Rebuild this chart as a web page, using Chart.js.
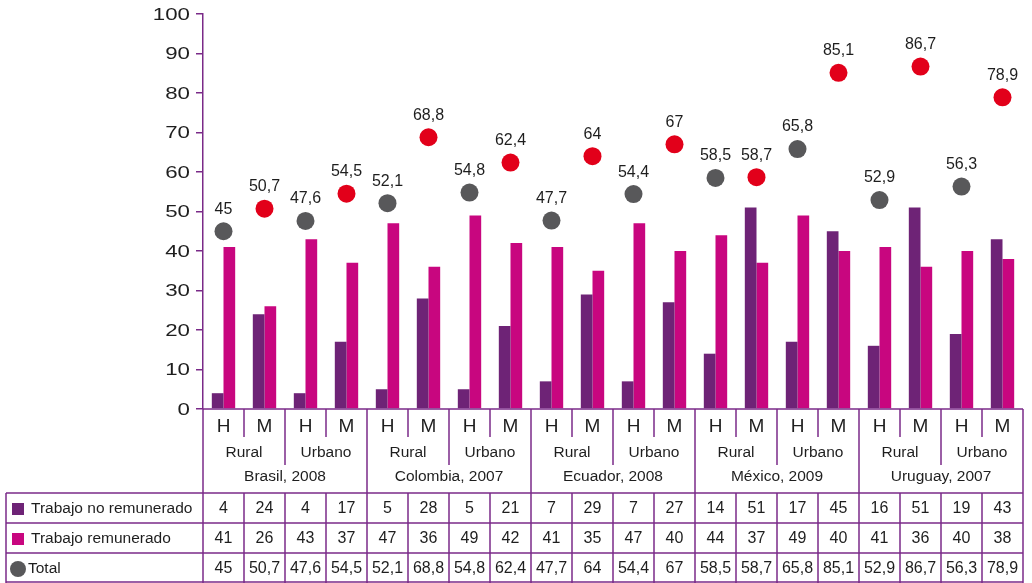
<!DOCTYPE html>
<html>
<head>
<meta charset="utf-8">
<script src="https://cdn.jsdelivr.net/npm/chart.js@4/dist/chart.umd.min.js"></script>
<style>
  html, body { margin: 0; padding: 0; background: #fff; }
  canvas { display: block; }
</style>
</head>
<body>
<canvas id="chart" width="1032" height="583"></canvas>
<script>
// Datos por columna (país / zona / sexo)
const sexos = ['H','M','H','M','H','M','H','M','H','M','H','M','H','M','H','M','H','M','H','M'];
const zonas = ['Rural', 'Urbano', 'Rural', 'Urbano', 'Rural', 'Urbano', 'Rural', 'Urbano', 'Rural', 'Urbano'];
const paises = ['Brasil, 2008', 'Colombia, 2007', 'Ecuador, 2008', 'México, 2009', 'Uruguay, 2007'];

const noRemunerado = [4, 24, 4, 17, 5, 28, 5, 21, 7, 29, 7, 27, 14, 51, 17, 45, 16, 51, 19, 43];
const remunerado = [41, 26, 43, 37, 47, 36, 49, 42, 41, 35, 47, 40, 44, 37, 49, 40, 41, 36, 40, 38];
const total = [45, 50.7, 47.6, 54.5, 52.1, 68.8, 54.8, 62.4, 47.7, 64, 54.4, 67, 58.5, 58.7, 65.8, 85.1, 52.9, 86.7, 56.3, 78.9];

const yTicks = [0, 10, 20, 30, 40, 50, 60, 70, 80, 90, 100];

const PURPLE = '#6e2376';
const MAGENTA = '#c8067f';
const GREY = '#58585a';
const RED = '#e2001a';
const LINE = '#7a2a88';
const TEXT = '#1e1e1e';
const FONT = '"Liberation Sans", Arial, sans-serif';

const fmt = v => String(v).replace('.', ',');

// tabla inferior, etiquetas de los puntos y números del eje
const tablePlugin = {
    id: 'tabla',
    afterDraw(chart) {
        const ctx = chart.ctx;
        const x = chart.scales.x;
        const y = chart.scales.y;
        const area = chart.chartArea;
        const n = sexos.length;
        const colW = (area.right - area.left) / n;
        const edge = i => area.left + i * colW;
        const base = area.bottom;
        const rows = [493, 523, 553, 583];
        const leftX = 6;

        // números del eje Y (letra ensanchada)
        ctx.save();
        ctx.fillStyle = TEXT;
        ctx.font = '16.5px ' + FONT;
        ctx.textAlign = 'right';
        ctx.textBaseline = 'middle';
        yTicks.forEach(v => {
            const py = y.getPixelForValue(v) + 1;
            ctx.save();
            ctx.translate(190, py);
            ctx.scale(1.35, 1);
            ctx.fillText(String(v), 0, 0);
            ctx.restore();
        });
        ctx.restore();

        // etiquetas de total sobre los puntos
        const meta = chart.getDatasetMeta(2);
        ctx.save();
        ctx.fillStyle = TEXT;
        ctx.font = '16px ' + FONT;
        ctx.textAlign = 'center';
        ctx.textBaseline = 'middle';
        meta.data.forEach((pt, i) => {
            ctx.fillText(fmt(total[i]), pt.x, pt.y - 22);
        });
        ctx.restore();

        ctx.save();
        ctx.strokeStyle = LINE;
        ctx.lineWidth = 1.5;
        const line = (x1, y1, x2, y2) => {
            ctx.beginPath();
            ctx.moveTo(x1, y1);
            ctx.lineTo(x2, y2);
            ctx.stroke();
        };

        // línea base
        line(area.left, base, edge(n), base);
        // eje prolongado hasta abajo
        line(area.left, base, area.left, 583);
        // separadores verticales
        for (let i = 1; i <= n; i++) {
            const xx = edge(i);
            if (i % 4 === 0) line(xx, base, xx, 583);
            else if (i % 2 === 0) { line(xx, base, xx, 465); line(xx, rows[0], xx, 583); }
            else { line(xx, base, xx, 437); line(xx, rows[0], xx, 583); }
        }
        // filas de la tabla
        rows.forEach((ry, k) => {
            const yy = k === 3 ? ry - 1 : ry;
            line(leftX, yy, edge(n), yy);
        });
        line(leftX, rows[0], leftX, 583);
        ctx.restore();

        // textos de los encabezados
        ctx.save();
        ctx.fillStyle = TEXT;
        ctx.textAlign = 'center';
        ctx.textBaseline = 'middle';
        ctx.font = '19px ' + FONT;
        sexos.forEach((s, i) => ctx.fillText(s, x.getPixelForValue(i), 427));
        ctx.font = '15.5px ' + FONT;
        zonas.forEach((z, j) => ctx.fillText(z, (edge(j * 2) + edge(j * 2 + 2)) / 2, 453));
        paises.forEach((p, j) => ctx.fillText(p, (edge(j * 4) + edge(j * 4 + 4)) / 2, 477));

        // valores
        const series = [noRemunerado, remunerado, total];
        ctx.font = '16px ' + FONT;
        series.forEach((arr, r) => {
            const cy = (rows[r] + rows[r + 1]) / 2 + 1;
            arr.forEach((v, i) => ctx.fillText(fmt(v), x.getPixelForValue(i), cy));
        });

        // leyenda dentro de la tabla
        const labels = ['Trabajo no remunerado', 'Trabajo remunerado', 'Total'];
        ctx.textAlign = 'left';
        ctx.font = '15.5px ' + FONT;
        labels.forEach((t, r) => {
            const cy = (rows[r] + rows[r + 1]) / 2 + 1;
            if (r < 2) {
                ctx.fillStyle = r === 0 ? PURPLE : MAGENTA;
                ctx.fillRect(12, cy - 6, 12, 12);
            } else {
                ctx.fillStyle = GREY;
                ctx.beginPath();
                ctx.arc(18, cy, 8, 0, Math.PI * 2);
                ctx.fill();
            }
            ctx.fillStyle = TEXT;
            ctx.fillText(t, r < 2 ? 31 : 28, cy);
        });
        ctx.restore();
    }
};

const ctx = document.getElementById('chart').getContext('2d');
new Chart(ctx, {
    type: 'bar',
    data: {
        labels: sexos.map((s, i) => i),
        datasets: [
            {
                label: 'Trabajo no remunerado',
                data: noRemunerado,
                backgroundColor: PURPLE,
                barPercentage: 1,
                categoryPercentage: 0.57,
                order: 1
            },
            {
                label: 'Trabajo remunerado',
                data: remunerado,
                backgroundColor: MAGENTA,
                barPercentage: 1,
                categoryPercentage: 0.57,
                order: 1
            },
            {
                type: 'line',
                label: 'Total',
                data: total,
                showLine: false,
                pointRadius: 9,
                pointHoverRadius: 9,
                pointBorderWidth: 0,
                pointBackgroundColor: sexos.map(s => s === 'H' ? GREY : RED),
                order: 0
            }
        ]
    },
    options: {
        responsive: false,
        animation: false,
        events: [],
        layout: { padding: { left: 0, top: 14, right: 7, bottom: 174 } },
        plugins: { legend: { display: false }, tooltip: { enabled: false } },
        scales: {
            x: { display: false, offset: true },
            y: {
                min: 0,
                max: 100,
                afterFit(scale) { scale.width = 203; },
                afterBuildTicks(scale) { scale.ticks = yTicks.map(v => ({ value: v })); },
                border: { color: LINE, width: 1.5 },
                grid: { drawOnChartArea: false, drawTicks: true, tickLength: 7, color: LINE, lineWidth: 1.5 },
                ticks: { display: false }
            }
        }
    },
    plugins: [tablePlugin]
});
</script>
</body>
</html>
